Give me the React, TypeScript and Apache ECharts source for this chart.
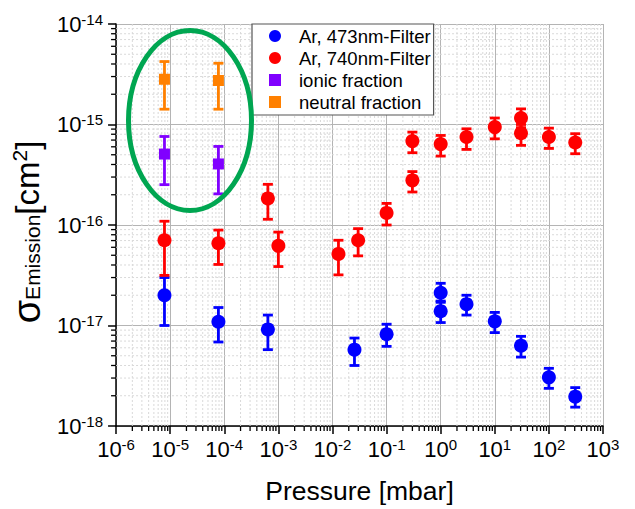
import React, { useEffect, useRef } from 'react';
import * as echarts from 'echarts';

// Pressure (mbar) and emission cross sections (cm^2)
const blueX = [7.85e-6, 7.8e-5, 6.4e-4, 0.0255, 0.1, 1, 1, 3, 10, 30.5, 100, 307];
const blueY = [2.0e-17, 1.09e-17, 9.15e-18, 5.75e-18, 8.2e-18, 2.12e-17, 1.39e-17, 1.63e-17, 1.1e-17, 6.3e-18, 3.05e-18, 1.96e-18];
const blueLo = [1.0e-17, 6.85e-18, 5.75e-18, 4.0e-18, 6.2e-18, 1.75e-17, 1.07e-17, 1.27e-17, 8.5e-18, 4.85e-18, 2.37e-18, 1.54e-18];
const blueHi = [3.0e-17, 1.51e-17, 1.27e-17, 7.5e-18, 1.03e-17, 2.63e-17, 1.7e-17, 2.0e-17, 1.35e-17, 7.8e-18, 3.75e-18, 2.41e-18];

const redX = [7.85e-6, 7.8e-5, 6.4e-4, 1e-3, 0.0129, 0.0298, 0.1, 0.3, 0.3, 1, 3, 10, 30.5, 30.5, 100, 307];
const redY = [7.05e-17, 6.58e-17, 1.84e-16, 6.2e-17, 5.16e-17, 7.05e-17, 1.32e-16, 2.78e-16, 6.84e-16, 6.38e-16, 7.5e-16, 9.42e-16, 1.16e-15, 8.2e-16, 7.5e-16, 6.62e-16];
const redLo = [3.15e-17, 4.05e-17, 1.14e-16, 3.86e-17, 3.19e-17, 4.93e-17, 1.0e-16, 2.13e-16, 5.24e-16, 4.85e-16, 5.65e-16, 7.2e-16, 9.3e-16, 6.2e-16, 5.78e-16, 5.12e-16];
const redHi = [1.09e-16, 8.9e-17, 2.54e-16, 8.5e-17, 7.05e-17, 9.2e-17, 1.64e-16, 3.4e-16, 8.4e-16, 7.78e-16, 9.06e-16, 1.16e-15, 1.43e-15, 1.0e-15, 9.2e-16, 8.1e-16];

const fracX = [7.85e-6, 7.8e-5];
const ionicY = [5.08e-16, 4.05e-16];
const ionicLo = [2.52e-16, 2.04e-16];
const ionicHi = [7.6e-16, 6.05e-16];
const neutralY = [2.82e-15, 2.74e-15];
const neutralLo = [1.42e-15, 1.42e-15];
const neutralHi = [4.23e-15, 4.07e-15];

const seriesNames = ['Ar, 473nm-Filter', 'Ar, 740nm-Filter', 'ionic fraction', 'neutral fraction'];
const seriesColors = ['#0000ff', '#ff0000', '#8000ff', '#ff8000'];

const xDecades = [-6, -5, -4, -3, -2, -1, 0, 1, 2];
const yDecades = [-18, -17, -16, -15];
const minorMultipliers = [2, 3, 4, 5, 6, 7, 8, 9];

const FONT = '"Liberation Sans", Arial, sans-serif';

function pts(xs: number[], ys: number[]) {
  return xs.map((x, i) => [x, ys[i]]);
}
function errs(xs: number[], lo: number[], hi: number[]) {
  return xs.map((x, i) => [x, lo[i], hi[i]]);
}

export default function App() {
  const ref = useRef<HTMLDivElement>(null);
  useEffect(() => {
    if (!ref.current) return;
    const chart = echarts.init(ref.current, undefined, { renderer: 'svg' });

    const xMinor: number[][] = [];
    xDecades.forEach((d) => minorMultipliers.forEach((m) => xMinor.push([m * Math.pow(10, d), 1e-16])));
    const yMinor: number[][] = [];
    yDecades.forEach((d) => minorMultipliers.forEach((m) => yMinor.push([1, m * Math.pow(10, d)])));

    const errSeries = (data: number[][], color: string) => ({
      type: 'custom',
      z: 3,
      silent: true,
      encode: { x: 0, y: [1, 2] },
      data,
      renderItem: (params: any, api: any) => {
        const x = api.value(0);
        const pLo = api.coord([x, api.value(1)]);
        const pHi = api.coord([x, api.value(2)]);
        const cw = 5;
        const st = { stroke: color, lineWidth: 2.8 };
        return {
          type: 'group',
          children: [
            { type: 'line', shape: { x1: pLo[0], y1: pLo[1], x2: pHi[0], y2: pHi[1] }, style: st },
            { type: 'line', shape: { x1: pLo[0] - cw, y1: pLo[1], x2: pLo[0] + cw, y2: pLo[1] }, style: st },
            { type: 'line', shape: { x1: pHi[0] - cw, y1: pHi[1], x2: pHi[0] + cw, y2: pHi[1] }, style: st },
          ],
        };
      },
    });

    const labelFmt = (v: number) => `10{sup|${Math.round(Math.log10(v))}}`;

    chart.setOption({
      animation: false,
      backgroundColor: '#ffffff',
      textStyle: { fontFamily: FONT },
      grid: { left: 113, right: 32, top: 24, bottom: 82 },
      legend: {
        left: 252,
        top: 24,
        orient: 'vertical',
        backgroundColor: '#ffffff',
        borderColor: '#555555',
        borderWidth: 1.2,
        borderRadius: 0,
        padding: [2, 3, 3, 17],
        itemGap: 2,
        itemWidth: 12,
        itemHeight: 12,
        textStyle: { fontSize: 18.5, color: '#000', fontFamily: FONT, lineHeight: 20, padding: [0, 0, 0, 13] },
        data: [
          { name: seriesNames[0], icon: 'circle' },
          { name: seriesNames[1], icon: 'circle' },
          { name: seriesNames[2], icon: 'rect' },
          { name: seriesNames[3], icon: 'rect' },
        ],
      },
      xAxis: {
        type: 'log',
        logBase: 10,
        min: 1e-6,
        max: 1e3,
        name: 'Pressure [mbar]',
        nameLocation: 'middle',
        nameGap: 51,
        nameTextStyle: { fontSize: 26.5, color: '#000', fontFamily: FONT },
        axisLine: { onZero: false, lineStyle: { color: '#000', width: 1.5 } },
        axisTick: { show: true, length: 8, lineStyle: { color: '#000', width: 1.5 } },
        axisLabel: {
          formatter: labelFmt,
          fontSize: 22,
          color: '#000',
          fontFamily: FONT,
          margin: 11,
          rich: { sup: { fontSize: 15, color: '#000', fontFamily: FONT, padding: [0, 0, 10, 0] } },
        },
        splitLine: { show: true, lineStyle: { color: '#b4b4b4', width: 1 } },
      },
      yAxis: {
        type: 'log',
        logBase: 10,
        min: 1e-18,
        max: 1e-14,
        name: '{s|σ}{sub|Emission}{b|[cm}{sup|2}{b|]}',
        nameLocation: 'middle',
        nameRotate: 90,
        nameGap: 66,
        nameTextStyle: {
          color: '#000',
          fontFamily: FONT,
          padding: [0, 14, 0, 0],
          rich: {
            s: { fontSize: 38, fontFamily: FONT, color: '#000' },
            sub: { fontSize: 21, fontFamily: FONT, color: '#000', padding: [10, 0, 0, 0] },
            b: { fontSize: 33, fontFamily: FONT, color: '#000' },
            sup: { fontSize: 21, fontFamily: FONT, color: '#000', padding: [0, 0, 16, 0] },
          },
        },
        axisLine: { show: true, onZero: false, lineStyle: { color: '#000', width: 1.5 } },
        axisTick: { show: true, length: 8, lineStyle: { color: '#000', width: 1.5 } },
        axisLabel: {
          formatter: labelFmt,
          fontSize: 22,
          color: '#000',
          fontFamily: FONT,
          margin: 13,
          rich: { sup: { fontSize: 15, color: '#000', fontFamily: FONT, padding: [0, 0, 10, 0] } },
        },
        splitLine: { show: true, lineStyle: { color: '#b4b4b4', width: 1 } },
      },
      graphic: [
        {
          type: 'ellipse',
          z: 10,
          shape: { cx: 190, cy: 120.5, rx: 61.5, ry: 90 },
          style: { fill: 'none', stroke: '#00a651', lineWidth: 5 },
        },
      ],
      series: [
        {
          type: 'custom',
          z: 1,
          silent: true,
          encode: { x: 0, y: 1 },
          data: xMinor,
          renderItem: (params: any, api: any) => {
            const cs = params.coordSys;
            const p = api.coord([api.value(0), api.value(1)]);
            const bottom = cs.y + cs.height;
            return {
              type: 'group',
              children: [
                { type: 'line', shape: { x1: p[0], y1: cs.y, x2: p[0], y2: bottom }, style: { stroke: '#d9d9d9', lineWidth: 1, lineDash: [2, 2] } },
                { type: 'line', shape: { x1: p[0], y1: bottom, x2: p[0], y2: bottom + 5 }, style: { stroke: '#000', lineWidth: 1.3 } },
              ],
            };
          },
        },
        {
          type: 'custom',
          z: 1,
          silent: true,
          encode: { x: 0, y: 1 },
          data: yMinor,
          renderItem: (params: any, api: any) => {
            const cs = params.coordSys;
            const p = api.coord([api.value(0), api.value(1)]);
            return {
              type: 'group',
              children: [
                { type: 'line', shape: { x1: cs.x, y1: p[1], x2: cs.x + cs.width, y2: p[1] }, style: { stroke: '#d9d9d9', lineWidth: 1, lineDash: [2, 2] } },
                { type: 'line', shape: { x1: cs.x - 5, y1: p[1], x2: cs.x, y2: p[1] }, style: { stroke: '#000', lineWidth: 1.3 } },
              ],
            };
          },
        },
        errSeries(errs(blueX, blueLo, blueHi), seriesColors[0]),
        errSeries(errs(redX, redLo, redHi), seriesColors[1]),
        errSeries(errs(fracX, ionicLo, ionicHi), seriesColors[2]),
        errSeries(errs(fracX, neutralLo, neutralHi), seriesColors[3]),
        { name: seriesNames[0], type: 'scatter', z: 4, symbol: 'circle', symbolSize: 14, itemStyle: { color: seriesColors[0], opacity: 1 }, data: pts(blueX, blueY) },
        { name: seriesNames[1], type: 'scatter', z: 4, symbol: 'circle', symbolSize: 14, itemStyle: { color: seriesColors[1], opacity: 1 }, data: pts(redX, redY) },
        { name: seriesNames[2], type: 'scatter', z: 4, symbol: 'rect', symbolSize: 11, itemStyle: { color: seriesColors[2], opacity: 1 }, data: pts(fracX, ionicY) },
        { name: seriesNames[3], type: 'scatter', z: 4, symbol: 'rect', symbolSize: 11, itemStyle: { color: seriesColors[3], opacity: 1 }, data: pts(fracX, neutralY) },
      ],
    });
    return () => chart.dispose();
  }, []);
  return <div ref={ref} style={{ position: 'fixed', left: 0, top: 0, width: 635, height: 509, background: '#fff' }} />;
}
